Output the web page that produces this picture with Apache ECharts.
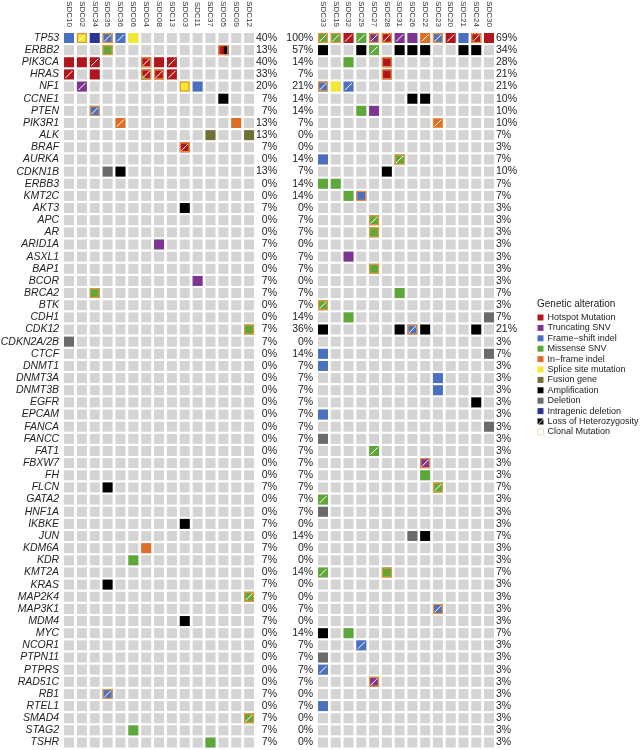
<!DOCTYPE html>
<html><head><meta charset="utf-8">
<script src="https://cdn.jsdelivr.net/npm/echarts@6/dist/echarts.min.js"></script>
<style>html,body{margin:0;padding:0;background:#fff}#c{width:642px;height:750px}</style>
</head><body><div id="c"></div><script>
const genes = ['TP53','ERBB2','PIK3CA','HRAS','NF1','CCNE1','PTEN','PIK3R1','ALK','BRAF','AURKA','CDKN1B','ERBB3','KMT2C','AKT3','APC','AR','ARID1A','ASXL1','BAP1','BCOR','BRCA2','BTK','CDH1','CDK12','CDKN2A/2B','CTCF','DNMT1','DNMT3A','DNMT3B','EGFR','EPCAM','FANCA','FANCC','FAT1','FBXW7','FH','FLCN','GATA2','HNF1A','IKBKE','JUN','KDM6A','KDR','KMT2A','KRAS','MAP2K4','MAP3K1','MDM4','MYC','NCOR1','PTPN11','PTPRS','RAD51C','RB1','RTEL1','SMAD4','STAG2','TSHR'];
const leftSamples = ['SDC10','SDC02','SDC34','SDC35','SDC36','SDC06','SDC04','SDC08','SDC13','SDC03','SDC11','SDC37','SDC05','SDC09','SDC12'];
const rightSamples = ['SDC33','SDC19','SDC32','SDC29','SDC27','SDC28','SDC31','SDC26','SDC22','SDC23','SDC20','SDC21','SDC24','SDC30'];
const leftPct = ['40%','13%','40%','33%','20%','7%','7%','13%','13%','7%','0%','13%','0%','0%','7%','0%','0%','7%','0%','0%','7%','7%','0%','0%','7%','7%','0%','0%','0%','0%','0%','0%','0%','0%','0%','0%','0%','7%','0%','0%','7%','0%','7%','7%','0%','7%','7%','0%','7%','0%','0%','0%','0%','0%','7%','0%','7%','7%','7%'];
const rightPct = ['100%','57%','14%','7%','21%','14%','14%','7%','0%','0%','14%','7%','14%','14%','0%','7%','7%','0%','7%','7%','0%','7%','7%','14%','36%','0%','14%','7%','7%','7%','7%','7%','7%','7%','7%','7%','7%','7%','7%','7%','0%','14%','0%','0%','14%','0%','0%','7%','0%','14%','7%','7%','7%','7%','0%','7%','0%','0%','0%'];
const totalPct = ['69%','34%','28%','21%','21%','10%','10%','10%','7%','3%','7%','10%','7%','7%','3%','3%','3%','3%','3%','3%','3%','7%','3%','7%','21%','3%','7%','3%','3%','3%','3%','3%','3%','3%','3%','3%','3%','7%','3%','3%','3%','7%','3%','3%','7%','3%','3%','3%','3%','7%','3%','3%','3%','3%','3%','3%','3%','3%','3%'];
const alterationTypes = ['Hotspot Mutation','Truncating SNV','Frame\u2212shift indel','Missense SNV','In\u2212frame indel','Splice site mutation','Fusion gene','Amplification','Deletion','Intragenic deletion'];
const typeCodes = ['H','T','F','M','I','S','U','A','D','G'];
const overlayNames = ['Loss of Heterozygosity','Clonal Mutation'];
// [sample, gene, type code, LOH, clonal, second type code]
const leftAlterations = [
 ['SDC10','TP53','F',0,0],['SDC02','TP53','S',1,1],['SDC34','TP53','G',0,0],['SDC35','TP53','F',1,1],['SDC36','TP53','F',1,0],['SDC06','TP53','S',0,0],
 ['SDC35','ERBB2','M',0,1],['SDC05','ERBB2','H',0,1,'A'],
 ['SDC10','PIK3CA','H',0,0],['SDC02','PIK3CA','H',0,0],['SDC34','PIK3CA','H',1,0],['SDC04','PIK3CA','H',1,1],['SDC08','PIK3CA','H',0,0],['SDC13','PIK3CA','H',1,0],
 ['SDC10','HRAS','H',1,0],['SDC34','HRAS','H',0,0],['SDC04','HRAS','H',1,1,'M'],['SDC08','HRAS','H',1,1],['SDC13','HRAS','H',1,0],
 ['SDC02','NF1','T',1,0],['SDC03','NF1','S',0,1],['SDC11','NF1','F',0,0],
 ['SDC05','CCNE1','A',0,0],
 ['SDC34','PTEN','F',1,1],
 ['SDC36','PIK3R1','I',1,0],['SDC09','PIK3R1','I',0,0],
 ['SDC37','ALK','U',0,0],['SDC12','ALK','U',0,0],
 ['SDC03','BRAF','H',1,1],
 ['SDC35','CDKN1B','D',0,0],['SDC36','CDKN1B','A',0,0],
 ['SDC03','AKT3','A',0,0],
 ['SDC08','ARID1A','T',0,0],
 ['SDC11','BCOR','T',0,0],
 ['SDC34','BRCA2','M',0,1],
 ['SDC12','CDK12','M',0,1],
 ['SDC10','CDKN2A/2B','D',0,0],
 ['SDC35','FLCN','A',0,0],
 ['SDC03','IKBKE','A',0,0],
 ['SDC04','KDM6A','I',0,0],
 ['SDC06','KDR','M',0,0],
 ['SDC35','KRAS','A',0,0],
 ['SDC12','MAP2K4','M',1,1],
 ['SDC03','MDM4','A',0,0],
 ['SDC35','RB1','F',1,1],
 ['SDC12','SMAD4','M',1,1],
 ['SDC06','STAG2','M',0,0],
 ['SDC37','TSHR','M',0,0]
];
const rightAlterations = [
 ['SDC33','TP53','M',1,1],['SDC19','TP53','M',1,1],['SDC32','TP53','H',1,0],['SDC29','TP53','M',1,0],['SDC27','TP53','T',1,1],['SDC28','TP53','H',1,1],['SDC31','TP53','T',1,0],['SDC26','TP53','T',0,0],['SDC22','TP53','I',1,0],['SDC23','TP53','F',1,1],['SDC20','TP53','H',1,0],['SDC21','TP53','F',0,0],['SDC24','TP53','H',1,1],['SDC30','TP53','H',0,0],
 ['SDC33','ERBB2','A',0,0],['SDC29','ERBB2','A',0,0],['SDC27','ERBB2','M',1,0],['SDC31','ERBB2','A',0,0],['SDC26','ERBB2','A',0,0],['SDC22','ERBB2','A',0,0],['SDC21','ERBB2','A',0,0],['SDC24','ERBB2','A',0,0],
 ['SDC32','PIK3CA','M',0,0],['SDC28','PIK3CA','H',0,1],
 ['SDC28','HRAS','H',0,1],
 ['SDC33','NF1','F',1,1],['SDC19','NF1','S',0,0],['SDC32','NF1','F',1,0],
 ['SDC26','CCNE1','A',0,0],['SDC22','CCNE1','A',0,0],
 ['SDC29','PTEN','M',0,0],['SDC27','PTEN','T',0,0],
 ['SDC23','PIK3R1','I',1,1],
 ['SDC33','AURKA','F',0,0],['SDC31','AURKA','M',1,1],
 ['SDC28','CDKN1B','A',0,0],
 ['SDC33','ERBB3','M',0,0],['SDC19','ERBB3','M',0,0],
 ['SDC32','KMT2C','M',0,0],['SDC29','KMT2C','F',0,1],
 ['SDC27','APC','M',1,1],
 ['SDC27','AR','M',0,1],
 ['SDC32','ASXL1','T',0,0],
 ['SDC27','BAP1','M',0,1],
 ['SDC31','BRCA2','M',0,0],
 ['SDC33','BTK','M',1,1],
 ['SDC32','CDH1','M',0,0],['SDC30','CDH1','D',0,0],
 ['SDC33','CDK12','A',0,0],['SDC31','CDK12','A',0,0],['SDC26','CDK12','F',1,1],['SDC22','CDK12','A',0,0],['SDC24','CDK12','A',0,0],
 ['SDC33','CTCF','F',0,0],['SDC30','CTCF','D',0,0],
 ['SDC33','DNMT1','F',0,0],
 ['SDC23','DNMT3A','F',0,0],
 ['SDC23','DNMT3B','F',0,0],
 ['SDC24','EGFR','A',0,0],
 ['SDC33','EPCAM','F',0,0],
 ['SDC30','FANCA','D',0,0],
 ['SDC33','FANCC','D',0,0],
 ['SDC27','FAT1','M',1,0],
 ['SDC22','FBXW7','T',1,1],
 ['SDC22','FH','M',0,0],
 ['SDC23','FLCN','M',1,1],
 ['SDC33','GATA2','M',1,0],
 ['SDC33','HNF1A','D',0,0],
 ['SDC26','JUN','D',0,0],['SDC22','JUN','A',0,0],
 ['SDC33','KMT2A','M',1,0],['SDC28','KMT2A','M',0,1],
 ['SDC23','MAP3K1','F',1,1],
 ['SDC33','MYC','A',0,0],['SDC32','MYC','M',0,0],
 ['SDC29','NCOR1','F',1,0],
 ['SDC33','PTPN11','D',0,0],
 ['SDC33','PTPRS','F',1,0],
 ['SDC27','RAD51C','T',1,1],
 ['SDC33','RTEL1','F',0,0]
];

// ---- styles ----
const typeColors = {H:'#b2161d',T:'#7d3591',F:'#4a70bf',M:'#5ea83a',I:'#df6d25',S:'#f3e832',U:'#6f7136',A:'#000000',D:'#6b6b6b',G:'#2c3390'};
const BG = '#d4d4d4', CLONAL = '#e8913a';
const CW = 10, CH = 10;
const FONT = '"Liberation Sans", Arial, sans-serif';

function rectAt(api){
  const c = api.coord([api.value(0), api.value(1)]);
  return [c[0]-CW/2, c[1]-CH/2];
}
function bgRender(params, api){
  const p = rectAt(api);
  return {type:'rect', shape:{x:p[0],y:p[1],width:CW,height:CH}, style:{fill:BG}};
}
function typeRender(list, code){
  return function(params, api){
    const p = rectAt(api), x0=p[0], y0=p[1];
    const item = list[params.dataIndex];
    const ch = [{type:'rect', shape:{x:x0,y:y0,width:CW,height:CH}, style:{fill:typeColors[code]}}];
    const sec = item[5];
    if (sec === 'A') ch.push({type:'rect', shape:{x:x0+CW*0.55,y:y0,width:CW*0.45,height:CH}, style:{fill:typeColors[sec]}});
    else if (sec) ch.push({type:'polygon', shape:{points:[[x0,y0+CH*0.4],[x0,y0+CH],[x0+CW*0.6,y0+CH]]}, style:{fill:typeColors[sec]}});
    return {type:'group', children:ch};
  };
}
function lohRender(params, api){
  const p = rectAt(api);
  return {type:'line', shape:{x1:p[0]+1.5,y1:p[1]+CH-1.5,x2:p[0]+CW-1.5,y2:p[1]+1.5}, style:{stroke:'#ffffff',lineWidth:1}};
}
function clonalRender(params, api){
  const p = rectAt(api);
  return {type:'rect', shape:{x:p[0]+0.6,y:p[1]+0.6,width:CW-1.2,height:CH-1.2}, style:{fill:null,stroke:CLONAL,lineWidth:1.2}};
}

const panels = [
  {samples:leftSamples, alts:leftAlterations, xAxisIndex:0, yAxisIndex:0},
  {samples:rightSamples, alts:rightAlterations, xAxisIndex:1, yAxisIndex:2}
];
const series = [];
panels.forEach(pn => {
  const bg = [];
  pn.samples.forEach((s,i)=>genes.forEach((g,j)=>bg.push([i,j])));
  series.push({type:'custom', silent:true, xAxisIndex:pn.xAxisIndex, yAxisIndex:pn.yAxisIndex, renderItem:bgRender, data:bg, encode:{x:0,y:1}, z:1});
});
alterationTypes.forEach((name,k) => {
  const code = typeCodes[k];
  panels.forEach(pn => {
    const list = pn.alts.filter(a=>a[2]===code);
    series.push({type:'custom', name:name, silent:true, xAxisIndex:pn.xAxisIndex, yAxisIndex:pn.yAxisIndex,
      itemStyle:{color:typeColors[code]}, renderItem:typeRender(list, code),
      data:list.map(a=>[pn.samples.indexOf(a[0]), genes.indexOf(a[1])]), encode:{x:0,y:1}, z:2});
  });
});
panels.forEach(pn => {
  const l = pn.alts.filter(a=>a[3]);
  series.push({type:'custom', name:overlayNames[0], silent:true, xAxisIndex:pn.xAxisIndex, yAxisIndex:pn.yAxisIndex,
    itemStyle:{color:'#000'}, renderItem:lohRender, data:l.map(a=>[pn.samples.indexOf(a[0]), genes.indexOf(a[1])]), encode:{x:0,y:1}, z:3});
  const c = pn.alts.filter(a=>a[4]);
  series.push({type:'custom', name:overlayNames[1], silent:true, xAxisIndex:pn.xAxisIndex, yAxisIndex:pn.yAxisIndex,
    itemStyle:{color:'#fff'}, renderItem:clonalRender, data:c.map(a=>[pn.samples.indexOf(a[0]), genes.indexOf(a[1])]), encode:{x:0,y:1}, z:4});
});

const hidden = {axisLine:{show:false}, axisTick:{show:false}, splitLine:{show:false}};
function xAx(grid, data){
  return Object.assign({type:'category', gridIndex:grid, position:'top', data:data,
    axisLabel:{interval:0, rotate:90, fontSize:8, margin:5, color:'#333', fontFamily:FONT}}, hidden);
}
function yAx(grid, pos, fmt, align, margin, italic){
  return Object.assign({type:'category', gridIndex:grid, position:pos, data:genes, inverse:true,
    axisLabel:{interval:0, fontSize:10.5, margin:margin, align:align, color:'#222', fontFamily:FONT,
      fontStyle: italic ? 'italic' : 'normal', formatter:fmt}}, hidden);
}

const legendData = alterationTypes.map((n,k)=>({name:n, icon:'rect', itemStyle:{color:typeColors[typeCodes[k]]}}));
legendData.push({name:overlayNames[0], icon:'path://M0,0L10,0L0,10Z M10,1.6L10,10L1.6,10Z', itemStyle:{color:'#000'}});
legendData.push({name:overlayNames[1], icon:'rect', itemStyle:{color:'#fff', borderColor:'#efdcc0', borderWidth:1}});

const option = {
  animation:false,
  backgroundColor:'#fff',
  textStyle:{fontFamily:FONT},
  title:{text:'Genetic alteration', left:537, top:299, padding:0,
    textStyle:{fontSize:10, fontWeight:'normal', color:'#222', fontFamily:FONT}},
  legend:{orient:'vertical', left:537, top:313, padding:0, itemWidth:6, itemHeight:6, itemGap:1.4,
    selectedMode:false, data:legendData,
    textStyle:{fontSize:9, lineHeight:9, color:'#222', fontFamily:FONT, padding:[0,0,0,-1]}},
  grid:[
    {left:62.6, top:31.9, width:192.9, height:716.7, outerBoundsMode:'none'},
    {left:316.6, top:31.9, width:178.8, height:716.7, outerBoundsMode:'none'}
  ],
  xAxis:[xAx(0,leftSamples), xAx(1,rightSamples)],
  yAxis:[
    yAx(0,'left', v=>v, 'right', 3.5, true),
    yAx(0,'right', (v,i)=>leftPct[i], 'right', 21.5, false),
    yAx(1,'left', (v,i)=>rightPct[i], 'right', 3.4, false),
    yAx(1,'right', (v,i)=>totalPct[i], 'left', 0.6, false)
  ],
  series:series
};
const chart = echarts.init(document.getElementById('c'), null, {renderer:'canvas'});
chart.setOption(option);
</script></body></html>
